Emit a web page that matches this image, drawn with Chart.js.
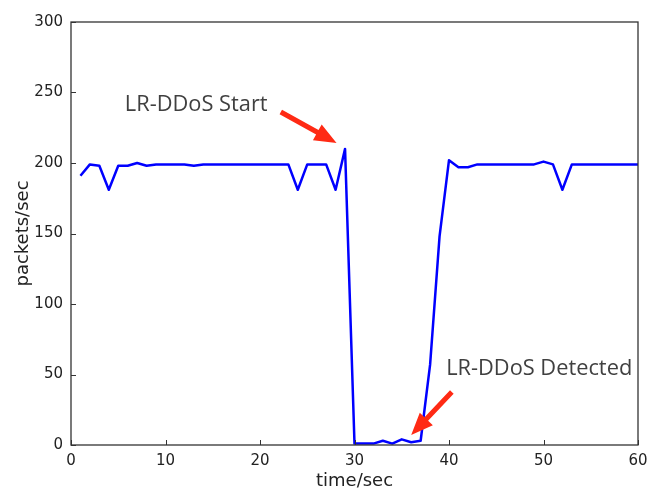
<!DOCTYPE html>
<html>
<head>
<meta charset="utf-8">
<script src="https://cdn.jsdelivr.net/npm/chart.js@4"></script>
<style>
  html, body { margin: 0; padding: 0; background: #fff; }
  #wrap { width: 648px; height: 490px; }
</style>
</head>
<body>
<div id="wrap"><canvas id="myChart" width="648" height="490"></canvas></div>
<script>
// time axis (seconds) and measured packet rate
const seconds = [1, 2, 3, 4, 5, 6, 7, 8, 9, 10,
  11, 12, 13, 14, 15, 16, 17, 18, 19, 20,
  21, 22, 23, 24, 25, 26, 27, 28, 29, 30,
  31, 32, 33, 34, 35, 36, 37, 38, 39, 40,
  41, 42, 43, 44, 45, 46, 47, 48, 49, 50,
  51, 52, 53, 54, 55, 56, 57, 58, 59, 60]
const packets = [191, 199, 198, 181, 198, 198, 200, 198, 199, 199,
  199, 199, 198, 199, 199, 199, 199, 199, 199, 199,
  199, 199, 199, 181, 199, 199, 199, 181, 210, 1,
  1, 1, 3, 1, 4, 2, 3, 57, 148, 202,
  197, 197, 199, 199, 199, 199, 199, 199, 199, 201,
  199, 181, 199, 199, 199, 199, 199, 199, 199, 199]
const xTicks = [0, 10, 20, 30, 40, 50, 60]
const yTicks = [0, 50, 100, 150, 200, 250, 300]

// annotation text + arrows, in data coordinates
const notes = [
  { text: 'LR-DDoS Start', x: 5.7, y: 237, from: [22.2, 236.2], to: [28.1, 214.2] },
  { text: 'LR-DDoS Detected', x: 39.7, y: 49.6, from: [40.3, 37.6], to: [36.0, 7.1] }
]

function drawArrow(c, x0, y0, x1, y1) {
  const ang = Math.atan2(y1 - y0, x1 - x0)
  const len = Math.hypot(x1 - x0, y1 - y0)
  const headLen = 22, headW = 9, shaftW = 2.5
  c.save()
  c.translate(x0, y0)
  c.rotate(ang)
  c.fillStyle = '#ff2a14'
  c.beginPath()
  c.moveTo(0, -shaftW)
  c.lineTo(len - headLen, -shaftW)
  c.lineTo(len - headLen, -headW)
  c.lineTo(len, 0)
  c.lineTo(len - headLen, headW)
  c.lineTo(len - headLen, shaftW)
  c.lineTo(0, shaftW)
  c.closePath()
  c.fill()
  c.restore()
}

const framePlugin = {
  id: 'frame',
  afterDraw(chart) {
    const c = chart.ctx
    const a = chart.chartArea
    const xs = chart.scales.x, ys = chart.scales.y
    c.save()
    c.strokeStyle = '#333'
    c.lineWidth = 1.3
    c.strokeRect(a.left, a.top, a.right - a.left, a.bottom - a.top)
    c.lineWidth = 1
    c.beginPath()
    xTicks.forEach(v => {
      const px = Math.round(xs.getPixelForValue(v)) + 0.5
      c.moveTo(px, a.bottom)
      c.lineTo(px, a.bottom - 5)
    })
    yTicks.forEach(v => {
      const py = Math.round(ys.getPixelForValue(v)) + 0.5
      c.moveTo(a.left, py)
      c.lineTo(a.left + 5, py)
    })
    c.stroke()

    c.font = '21.8px "Open Sans"'
    c.fillStyle = '#404040'
    c.textBaseline = 'alphabetic'
    c.textAlign = 'left'
    notes.forEach(n => {
      c.fillText(n.text, xs.getPixelForValue(n.x), ys.getPixelForValue(n.y))
      drawArrow(c,
        xs.getPixelForValue(n.from[0]), ys.getPixelForValue(n.from[1]),
        xs.getPixelForValue(n.to[0]), ys.getPixelForValue(n.to[1]))
    })
    c.restore()
  }
}

const ctx = document.getElementById('myChart')

const myChart = new Chart(ctx, {
  type: 'line',
  data: {
    datasets: [{
      data: seconds.map((s, i) => ({ x: s, y: packets[i] })),
      borderColor: '#0000ff',
      borderWidth: 2.5,
      borderJoinStyle: 'round',
      pointRadius: 0,
      tension: 0,
      fill: false
    }]
  },
  options: {
    responsive: false,
    animation: false,
    layout: { padding: { top: 22, right: 10, left: 0, bottom: 0 } },
    plugins: { legend: { display: false }, tooltip: { enabled: false } },
    scales: {
      x: {
        type: 'linear',
        min: 0,
        max: 60,
        afterBuildTicks: s => { s.ticks = xTicks.map(v => ({ value: v })) },
        afterFit: s => { s.height = 45; s.paddingRight = 0; s.paddingLeft = 0 },
        grid: { display: false, drawTicks: false },
        border: { display: false },
        ticks: { padding: 7, color: '#222', font: { family: 'DejaVu Sans', size: 15 }, maxRotation: 0 },
        title: { display: true, text: 'time/sec', color: '#222', padding: 0,
          font: { family: 'DejaVu Sans', size: 18, lineHeight: 1.0 } }
      },
      y: {
        min: 0,
        max: 300,
        afterBuildTicks: s => { s.ticks = yTicks.map(v => ({ value: v })) },
        afterFit: s => { s.width = 71; s.paddingTop = 0; s.paddingBottom = 0 },
        grid: { display: false, drawTicks: false },
        border: { display: false },
        ticks: { padding: 8, color: '#222', font: { family: 'DejaVu Sans', size: 15 } },
        title: { display: true, text: 'packets/sec', color: '#222', padding: { top: 13, bottom: 0 },
          font: { family: 'DejaVu Sans', size: 18 } }
      }
    }
  },
  plugins: [framePlugin]
})
</script>
</body>
</html>
